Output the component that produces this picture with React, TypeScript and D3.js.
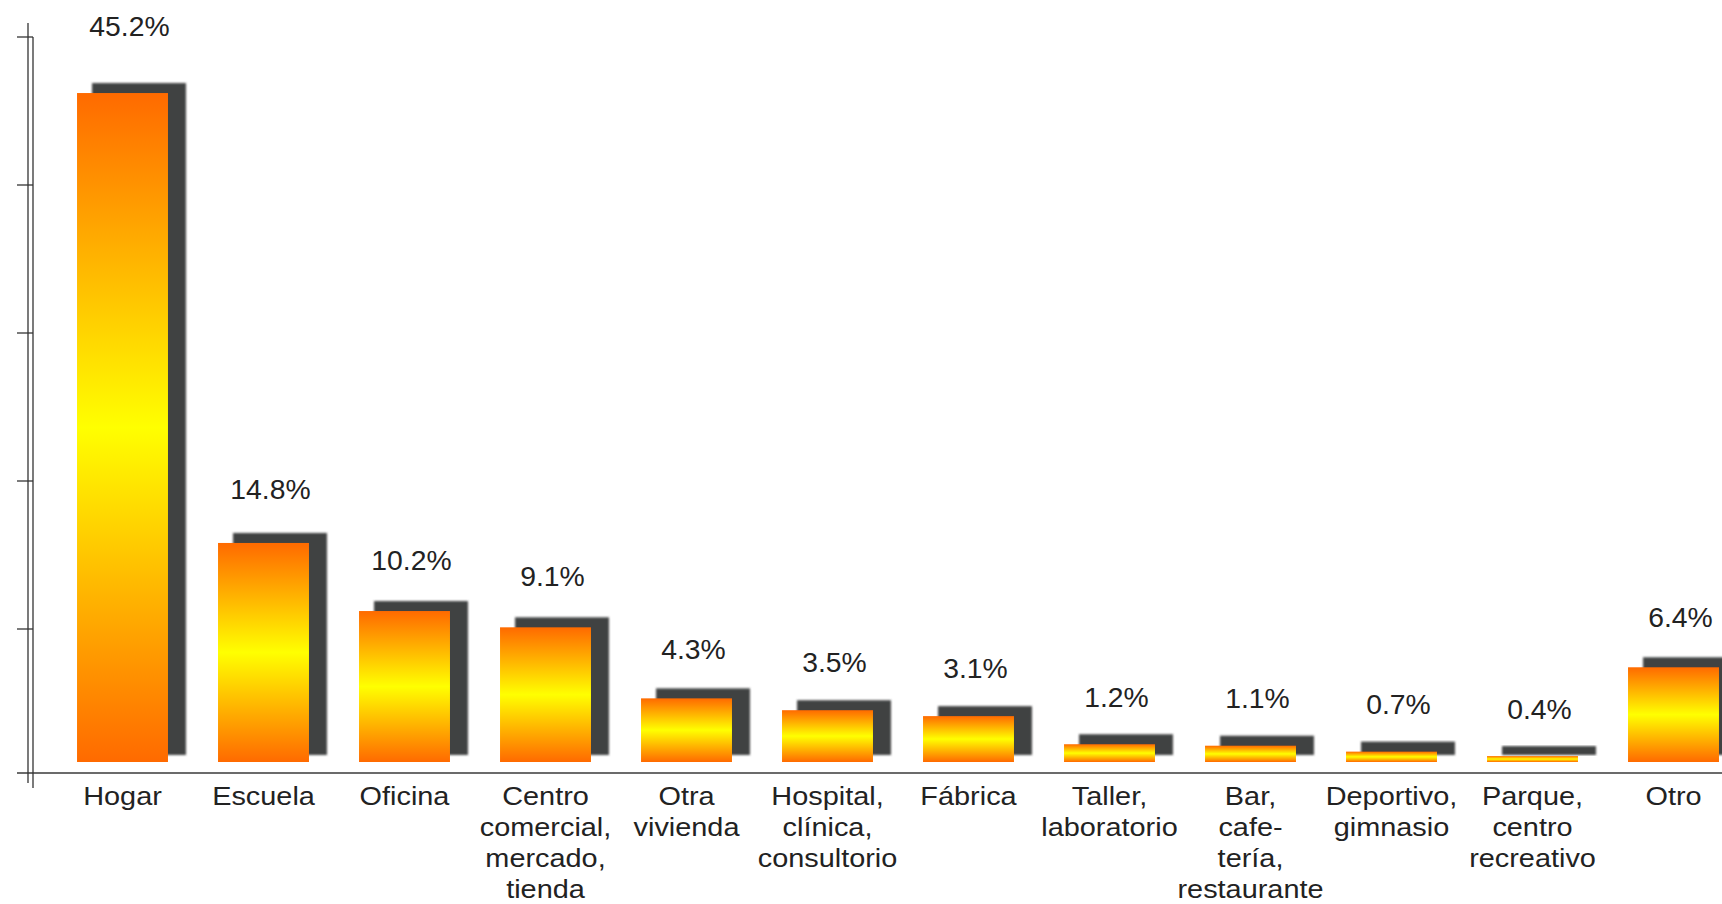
import React from "react";
import * as d3 from "d3";

// ---- data ----
const categoryKeys = [
  "Hogar",
  "Escuela",
  "Oficina",
  "Centro comercial",
  "Otra vivienda",
  "Hospital",
  "Fábrica",
  "Taller",
  "Bar",
  "Deportivo",
  "Parque",
  "Otro",
];
const categoryLines = [
  ["Hogar"],
  ["Escuela"],
  ["Oficina"],
  ["Centro", "comercial,", "mercado,", "tienda"],
  ["Otra", "vivienda"],
  ["Hospital,", "clínica,", "consultorio"],
  ["Fábrica"],
  ["Taller,", "laboratorio"],
  ["Bar,", "cafe-", "tería,", "restaurante"],
  ["Deportivo,", "gimnasio"],
  ["Parque,", "centro", "recreativo"],
  ["Otro"],
];
const values = [45.2, 14.8, 10.2, 9.1, 4.3, 3.5, 3.1, 1.2, 1.1, 0.7, 0.4, 6.4];
const tickValues = [10, 20, 30, 40, 50];

// ---- layout ----
const W = 1722;
const H = 904;
const AXIS_Y = 773;
const SHADOW_DX = 15;
const SHADOW_DY = -10;
const FONT = "'Liberation Sans', Arial, Helvetica, sans-serif";

export default function App() {
  const x = d3
    .scaleBand<string>()
    .domain(categoryKeys)
    .range([52, 1744])
    .paddingInner(0.355)
    .paddingOuter(0.1775);
  const y = d3.scaleLinear().domain([0, 50]).range([762, 22]);
  const yAxis = d3.scaleLinear().domain([0, 50]).range([777, 37]);
  const yLabel = d3.scaleLinear().domain([0, 50]).range([725, -37]);
  const fmt = (v: number) => d3.format(".1f")(v) + "%";
  const bw = x.bandwidth();

  return (
    <svg
      width={W}
      height={H}
      style={{ position: "absolute", left: 0, top: 0, background: "#fff", display: "block" }}
    >
      <defs>
        <linearGradient id="barGrad" x1="0" y1="0" x2="0" y2="1">
          <stop offset="0%" stopColor="#ff6a00" />
          <stop offset="50%" stopColor="#ffff00" />
          <stop offset="100%" stopColor="#ff6a00" />
        </linearGradient>
        <filter id="blur" x="-10%" y="-10%" width="120%" height="120%" filterUnits="objectBoundingBox">
          <feGaussianBlur stdDeviation="1.3" />
        </filter>
      </defs>
      <rect x={0} y={0} width={W} height={H} fill="#fff" />

      {/* shadows */}
      {values.map((v, i) => {
        const k = categoryKeys[i];
        const top = y(v);
        return (
          <rect
            key={"s" + k}
            x={(x(k) as number) + SHADOW_DX}
            y={top + SHADOW_DY}
            width={bw + 3}
            height={y(0) - top + 3}
            fill="#414242"
            filter="url(#blur)"
          />
        );
      })}

      {/* bars */}
      {values.map((v, i) => {
        const k = categoryKeys[i];
        const top = y(v);
        return (
          <rect
            key={"b" + k}
            x={x(k) as number}
            y={top}
            width={bw}
            height={y(0) - top}
            fill="url(#barGrad)"
          />
        );
      })}

      {/* value labels */}
      {values.map((v, i) => {
        const k = categoryKeys[i];
        const cx = (x(k) as number) + bw / 2 + 7;
        return (
          <text
            key={"v" + k}
            transform={`translate(${cx},${yLabel(v)}) scale(1.03,1)`}
            textAnchor="middle"
            fontFamily={FONT}
            fontSize={27.5}
            fill="#222"
          >
            {fmt(v)}
          </text>
        );
      })}

      {/* axes */}
      <line x1={17} x2={W} y1={AXIS_Y} y2={AXIS_Y} stroke="#6b6b6b" strokeWidth={2} />
      <line x1={28} x2={28} y1={23} y2={783} stroke="#333" strokeWidth={1.3} />
      <line x1={33} x2={33} y1={yAxis(50)} y2={788} stroke="#333" strokeWidth={1.3} />
      {tickValues.map((t) => (
        <line key={"t" + t} x1={17} x2={33} y1={yAxis(t)} y2={yAxis(t)} stroke="#333" strokeWidth={1.3} />
      ))}

      {/* category labels */}
      {categoryLines.map((lines, i) => {
        const k = categoryKeys[i];
        const cx = (x(k) as number) + bw / 2;
        return (
          <text
            key={"c" + k}
            transform={`translate(${cx},805) scale(1.09,1)`}
            textAnchor="middle"
            fontFamily={FONT}
            fontSize={26.5}
            fill="#222"
          >
            {lines.map((ln, j) => (
              <tspan key={j} x={0} y={j * 31}>
                {ln}
              </tspan>
            ))}
          </text>
        );
      })}
    </svg>
  );
}
